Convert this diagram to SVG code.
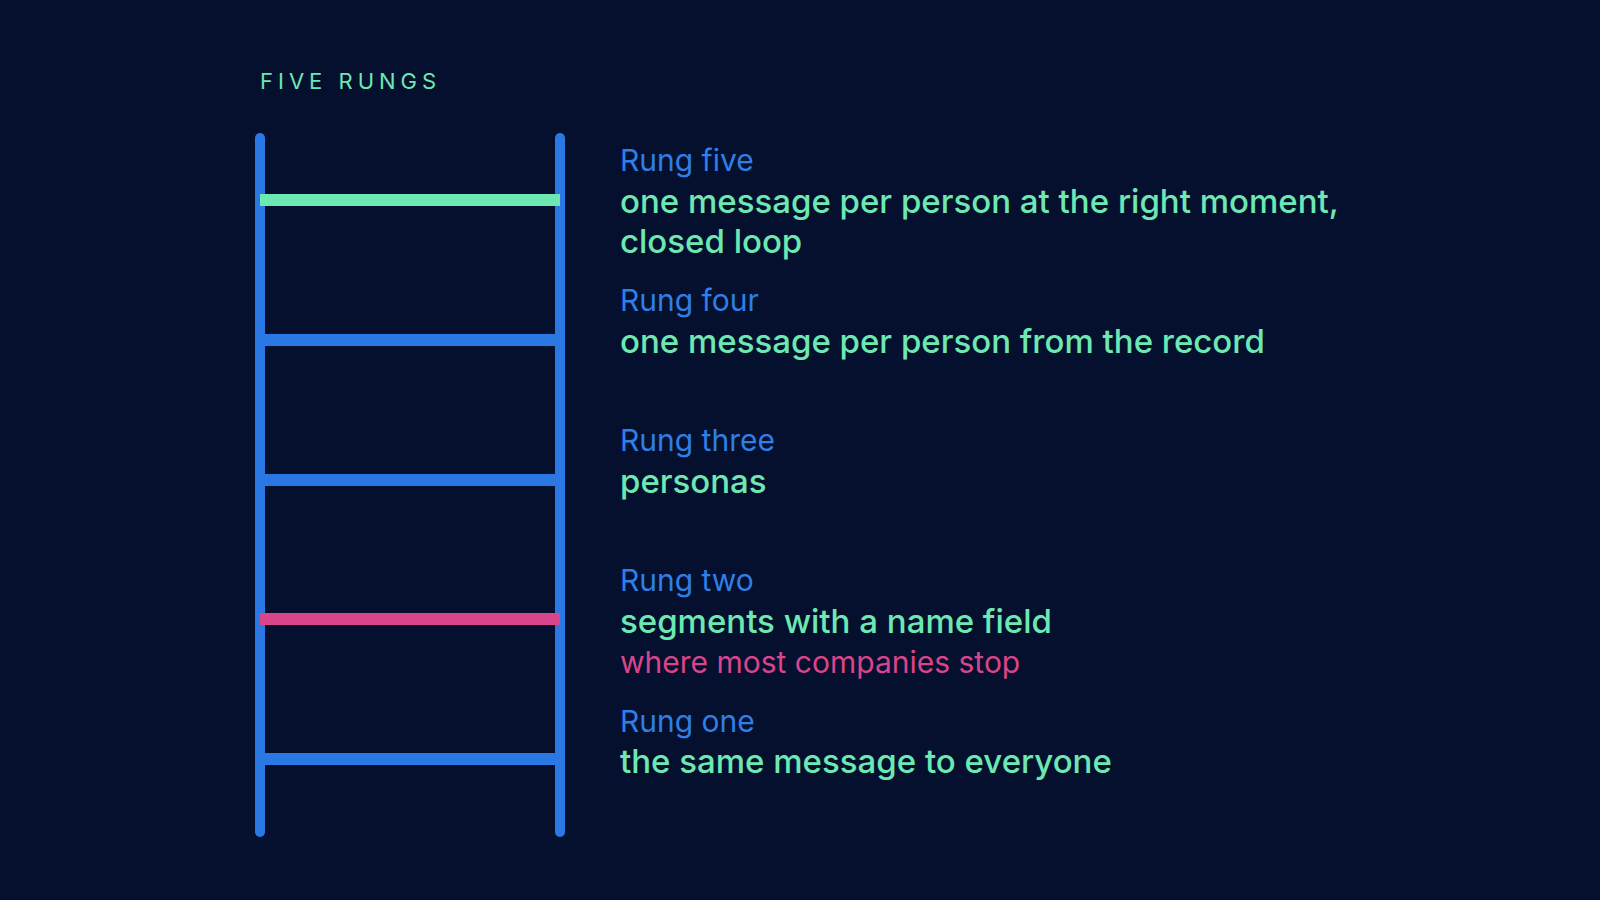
<svg xmlns="http://www.w3.org/2000/svg" width="1600" height="900" viewBox="0 0 1600 900">
<style>
.rail{stroke:#2a78e4;stroke-width:10;stroke-linecap:round}
.rung{stroke:#2a78e4;stroke-width:12}
.t{font-family:Inter,"Noto Sans",sans-serif}
.lbl{fill:#2f7fe6;font-size:30px}
.main{fill:#6ee8b2;font-size:33px;font-weight:500}
</style>
<rect width="1600" height="900" fill="#04102e"/>
<text class="t" x="260" y="89" fill="#6ee8b2" font-size="22" letter-spacing="5">FIVE RUNGS</text>
<g id="ladder">
<line class="rung" x1="260" y1="340" x2="560" y2="340"/>
<line class="rung" x1="260" y1="480" x2="560" y2="480"/>
<line class="rung" x1="260" y1="759" x2="560" y2="759"/>
<line class="rail" x1="260" y1="138" x2="260" y2="832"/>
<line class="rail" x1="560" y1="138" x2="560" y2="832"/>
<line class="rung" x1="260" y1="200" x2="560" y2="200" style="stroke:#6ee8b2"/>
<line class="rung" x1="260" y1="619" x2="560" y2="619" style="stroke:#d9458a"/>
</g>
<g id="r5" class="t"><text class="lbl" x="620" y="171">Rung five</text><text class="main" x="620" y="213">one message per person at the right moment,</text><text class="main" x="620" y="253">closed loop</text></g>
<g id="r4" class="t"><text class="lbl" x="620" y="311">Rung four</text><text class="main" x="620" y="353">one message per person from the record</text></g>
<g id="r3" class="t"><text class="lbl" x="620" y="451">Rung three</text><text class="main" x="620" y="493">personas</text></g>
<g id="r2" class="t"><text class="lbl" x="620" y="591">Rung two</text><text class="main" x="620" y="633">segments with a name field</text><text x="620" y="673" fill="#d9458a" font-size="30">where most companies stop</text></g>
<g id="r1" class="t"><text class="lbl" x="620" y="732">Rung one</text><text class="main" x="620" y="773">the same message to everyone</text></g>
</svg>
